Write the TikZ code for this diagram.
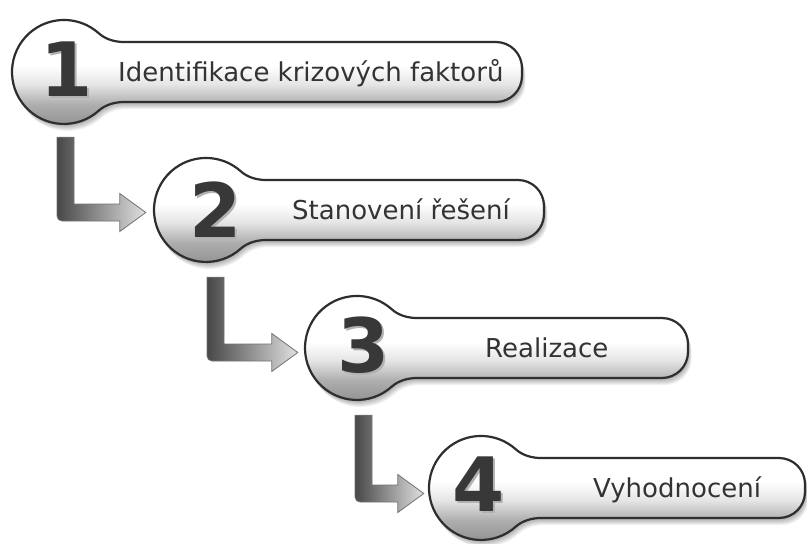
\documentclass[tikz,border=0pt]{standalone}
\usepackage{fontspec}
\newfontfamily\labelfont{DejaVu Sans}
\usetikzlibrary{calc}

% vertical fill of a step: white on top, grey towards the bottom
\pgfdeclareverticalshading{stepshade}{100bp}{%
  color(0bp)=(black!45); color(25bp)=(black!45); color(36bp)=(black!32);
  color(45bp)=(black!10); color(53bp)=(white); color(100bp)=(white)}

\tikzset{
  stepline/.style={draw=black!82, line width=2.2pt, shade, shading=stepshade},
  stepshadow/.style={fill=black, fill opacity=0.05, draw=none},
  ring/.style={circle, minimum size=104pt, inner sep=0pt},
  digit/.style={inner sep=0pt, font=\labelfont\bfseries\fontsize{75}{75}\selectfont, text=black!78},
  steptext/.style={anchor=base west, inner sep=0pt, font=\labelfont\fontsize{26}{26}\selectfont, text=black!80},
  connstyle/.style={left color=black!72, right color=black!12, draw=black!55, line width=0.8pt},
}

% a numeral with a light embossed copy behind it
\newcommand\embossed[1]{\rlap{\kern2pt\raisebox{-2pt}{\textcolor{black!30}{#1}}}#1}

% outline of one step: a disc (centre #1,#2) merged into a bar ending at x=#3
\newcommand\stepoutline[3]{%
  (#1+60,#2+30) -- (#3-26,#2+30) arc[start angle=90,end angle=0,radius=26]
  -- (#3,#2-4) arc[start angle=0,end angle=-90,radius=26]
  -- (#1+60,#2-30) .. controls (#1+51,#2-30) and (#1+41.5,#2-32.6) .. (#1+34.8,#2-38.6)
  arc[start angle=-48,end angle=-312,radius=52]
  .. controls (#1+41.5,#2+32.6) and (#1+51,#2+30) .. cycle}

% a step with its soft shadow
\newcommand\stepbody[3]{%
  \foreach \k in {1,...,7}{\fill[stepshadow, shift={(0.5*\k,-\k)}] \stepoutline{#1}{#2}{#3};}
  \path[stepline] \stepoutline{#1}{#2}{#3};}

% L-shaped arrow from a start point (top of the stem) to a tip
\newcommand\lconn[2]{%
  \path[connstyle] let \p1=(#1), \p2=(#2) in
    (\x1-8.5pt,\y1) -- (\x1+8.5pt,\y1) -- (\x1+8.5pt,\y2+8.5pt)
    -- (\x2-26pt,\y2+8.5pt) -- (\x2-26pt,\y2+19pt) -- (\x2,\y2)
    -- (\x2-26pt,\y2-19pt) -- (\x2-26pt,\y2-8.5pt)
    -- (\x1-3.5pt,\y2-8.5pt) arc[start angle=270,end angle=180,radius=5pt] -- cycle;}

\begin{document}
\begin{tikzpicture}[x=1pt,y=1pt]
  \useasboundingbox (0,0) rectangle (807,-544);
  \fill[white] (0,0) rectangle (807,-544);

  % step bodies
  \stepbody{64}{-72}{522}
  \stepbody{206}{-210}{544}
  \stepbody{357}{-348}{688}
  \stepbody{481}{-488}{805}

  % discs
  \node[ring] (c1) at (64,-72) {};
  \node[ring] (c2) at (206,-210) {};
  \node[ring] (c3) at (357,-348) {};
  \node[ring] (c4) at (481,-488) {};

  % numbers
  \node[digit] (d1) at (67,-70.5) {\embossed{1}};
  \node[digit] (d2) at (216,-210.5) {\embossed{2}};
  \node[digit] (d3) at (364,-346) {\embossed{3}};
  \node[digit] (d4) at (479,-485) {\embossed{4}};

  % captions
  \node[steptext] (t1) at (118,-81) {Identifikace krizových faktorů};
  \node[steptext] (t2) at (292,-219) {Stanovení řešení};
  \node[steptext] (t3) at (485,-357) {Realizace};
  \node[steptext] (t4) at (593,-497) {Vyhodnocení};

  % connectors
  \coordinate (a1s) at ($(c1.south)+(1.5,-13)$);
  \coordinate (a1t) at ($(c2.west)+(-8,-2.5)$);
  \coordinate (a2s) at ($(c2.south)+(9.5,-15)$);
  \coordinate (a2t) at ($(c3.west)+(-7,-4.5)$);
  \coordinate (a3s) at ($(c3.south)+(6.5,-15)$);
  \coordinate (a3t) at ($(c4.west)+(-5,-5.5)$);
  \lconn{a1s}{a1t}
  \lconn{a2s}{a2t}
  \lconn{a3s}{a3t}
\end{tikzpicture}
\end{document}
